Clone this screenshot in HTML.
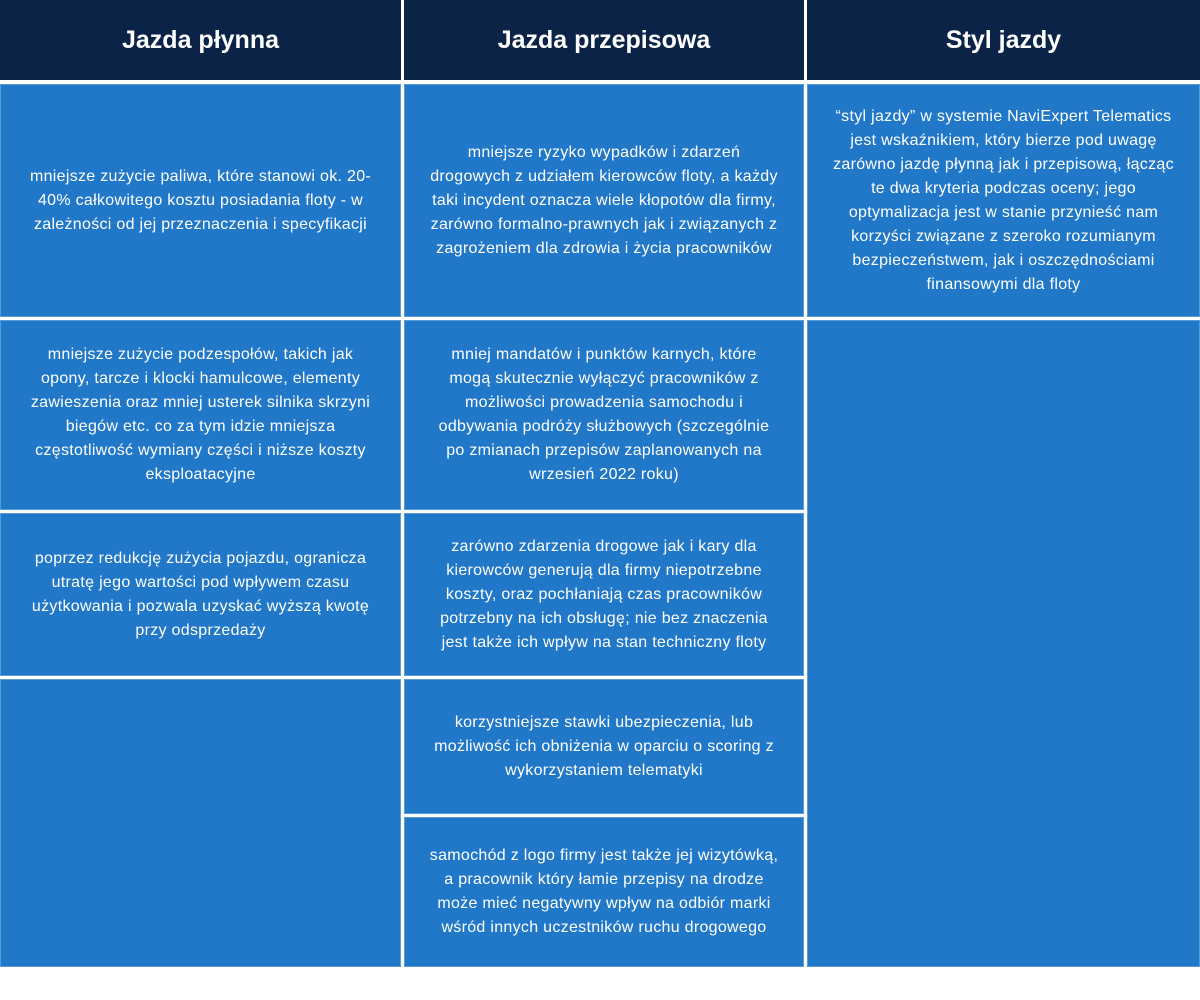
<!DOCTYPE html>
<html><head><meta charset="utf-8"><style>
body{margin:0;width:1200px;height:1000px;background:#fff;position:relative;overflow:hidden;font-family:"Liberation Sans",sans-serif}
.c{position:absolute;background:#2178c8;color:#fff;display:flex;align-items:center;justify-content:center;text-align:center;font-size:16px;letter-spacing:0.3px;line-height:24px;box-sizing:border-box;box-shadow:inset 0 0 0 1px rgba(255,255,255,0.25);white-space:nowrap}
.h{position:absolute;background:#0b2346;color:#fff;display:flex;align-items:center;justify-content:center;font-weight:bold;font-size:25px;top:0;height:80px}
</style></head><body>
<div class="h" style="left:0;width:401px">Jazda płynna</div>
<div class="h" style="left:404px;width:400px">Jazda przepisowa</div>
<div class="h" style="left:807px;width:393px">Styl jazdy</div>

<div class="c" style="left:0;width:401px;top:84px;height:233px">mniejsze zużycie paliwa, które stanowi ok. 20-<br>40% całkowitego kosztu posiadania floty - w<br>zależności od jej przeznaczenia i specyfikacji</div>
<div class="c" style="left:0;width:401px;top:320px;height:190px">mniejsze zużycie podzespołów, takich jak<br>opony, tarcze i klocki hamulcowe, elementy<br>zawieszenia oraz mniej usterek silnika skrzyni<br>biegów etc. co za tym idzie mniejsza<br>częstotliwość wymiany części i niższe koszty<br>eksploatacyjne</div>
<div class="c" style="left:0;width:401px;top:513px;height:163px">poprzez redukcję zużycia pojazdu, ogranicza<br>utratę jego wartości pod wpływem czasu<br>użytkowania i pozwala uzyskać wyższą kwotę<br>przy odsprzedaży</div>
<div class="c" style="left:0;width:401px;top:679px;height:288px"></div>

<div class="c" style="left:404px;width:400px;top:84px;height:233px">mniejsze ryzyko wypadków i zdarzeń<br>drogowych z udziałem kierowców floty, a każdy<br>taki incydent oznacza wiele kłopotów dla firmy,<br>zarówno formalno-prawnych jak i związanych z<br>zagrożeniem dla zdrowia i życia pracowników</div>
<div class="c" style="left:404px;width:400px;top:320px;height:190px">mniej mandatów i punktów karnych, które<br>mogą skutecznie wyłączyć pracowników z<br>możliwości prowadzenia samochodu i<br>odbywania podróży służbowych (szczególnie<br>po zmianach przepisów zaplanowanych na<br>wrzesień 2022 roku)</div>
<div class="c" style="left:404px;width:400px;top:513px;height:163px">zarówno zdarzenia drogowe jak i kary dla<br>kierowców generują dla firmy niepotrzebne<br>koszty, oraz pochłaniają czas pracowników<br>potrzebny na ich obsługę; nie bez znaczenia<br>jest także ich wpływ na stan techniczny floty</div>
<div class="c" style="left:404px;width:400px;top:679px;height:135px">korzystniejsze stawki ubezpieczenia, lub<br>możliwość ich obniżenia w oparciu o scoring z<br>wykorzystaniem telematyki</div>
<div class="c" style="left:404px;width:400px;top:817px;height:150px">samochód z logo firmy jest także jej wizytówką,<br>a pracownik który łamie przepisy na drodze<br>może mieć negatywny wpływ na odbiór marki<br>wśród innych uczestników ruchu drogowego</div>

<div class="c" style="left:807px;width:393px;top:84px;height:233px;align-items:flex-start;padding-top:21px">“styl jazdy” w systemie NaviExpert Telematics<br>jest wskaźnikiem, który bierze pod uwagę<br>zarówno jazdę płynną jak i przepisową, łącząc<br>te dwa kryteria podczas oceny; jego<br>optymalizacja jest w stanie przynieść nam<br>korzyści związane z szeroko rozumianym<br>bezpieczeństwem, jak i oszczędnościami<br>finansowymi dla floty</div>
<div class="c" style="left:807px;width:393px;top:320px;height:647px"></div>
</body></html>
